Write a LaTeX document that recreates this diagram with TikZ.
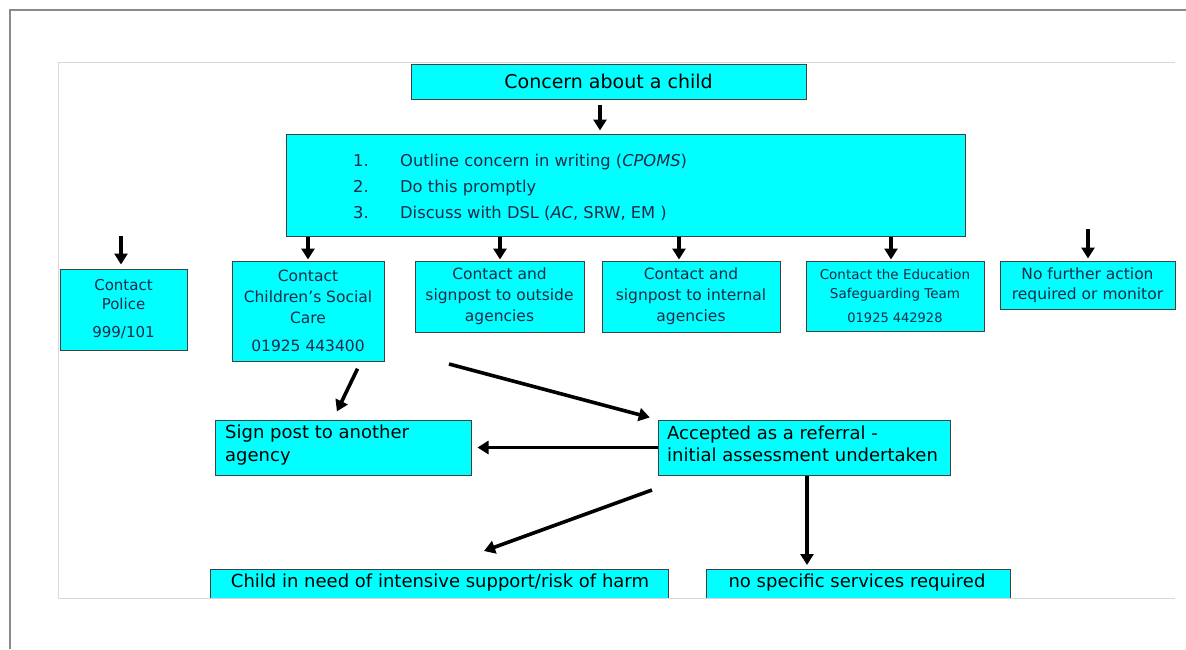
\documentclass[tikz,border=0pt]{standalone}
\usepackage{fontspec}
\setmainfont{DejaVu Sans}
\usetikzlibrary{arrows.meta,calc}
\definecolor{boxcyan}{HTML}{00FFFF}
\definecolor{navytext}{HTML}{1C2A48}
\definecolor{framegray}{HTML}{8A8A8A}
\definecolor{innergray}{HTML}{D8D8D8}
\tikzset{
  cbox/.style={draw=black!75, line width=1pt, fill=boxcyan, inner sep=0pt, align=center},
  arr/.style={line width=3.6pt, -{Triangle[length=11pt,width=13pt]}},
}
\begin{document}
\begin{tikzpicture}[x=1pt,y=-1pt]
\useasboundingbox (0,0) rectangle (1186,649);
\fill[white] (0,0) rectangle (1186,649);
% outer and inner frames
\draw[framegray, line width=1.5pt] (10,649) -- (10,10) -- (1186,10);
\draw[innergray, line width=1pt] (58,598) -- (58,62) -- (1175,62);

% boxes
\node[cbox, minimum width=395pt, minimum height=35pt, font=\fontsize{19}{22}\selectfont] (concern) at (608.5,81.5) {Concern about a child};
\node[cbox, minimum width=679pt, minimum height=102pt] (big) at (625.5,185) {};
\node[anchor=west, text=navytext, font=\fontsize{16.3}{26}\selectfont, align=left, inner sep=0pt] (listtext) at (353,187)
  {\makebox[47pt][l]{1.}Outline concern in writing (\textit{CPOMS})\\
   \makebox[47pt][l]{2.}Do this promptly\\
   \makebox[47pt][l]{3.}Discuss with DSL (\textit{AC}, SRW, EM )};

\node[cbox, minimum width=127pt, minimum height=81pt, text=navytext, font=\fontsize{15}{19}\selectfont] (police) at (123.5,309.5) {Contact\\Police\\[9pt]999/101};
\node[cbox, minimum width=152pt, minimum height=100pt, text=navytext, font=\fontsize{15.5}{21}\selectfont] (csc) at (308,311) {Contact\\Children's Social\\Care\\[7pt]01925 443400};
\node[cbox, minimum width=169pt, minimum height=71pt, text=navytext, font=\fontsize{15.5}{21}\selectfont] (outside) at (499.5,296.5) {Contact and\\signpost to outside\\agencies};
\node[cbox, minimum width=178pt, minimum height=71pt, text=navytext, font=\fontsize{15.5}{21}\selectfont] (internal) at (691,296.5) {Contact and\\signpost to internal\\agencies};
\node[cbox, minimum width=178pt, minimum height=70pt, text=navytext, font=\fontsize{13.5}{19}\selectfont] (edu) at (895,296) {Contact the Education\\Safeguarding Team\\[5pt]{\fontsize{13}{16}\selectfont 01925 442928}};
\node[cbox, minimum width=175pt, minimum height=48pt, text=navytext, font=\fontsize{15.5}{20}\selectfont] (nfa) at (1087.5,285) {No further action\\required or monitor};

\node[cbox, minimum width=256pt, minimum height=55pt] (signpost) at (343,447.5) {};
\node[anchor=north west, align=left, inner sep=0pt, font=\fontsize{18}{23}\selectfont] (signtext) at (225,425) {Sign post to another\\agency};
\node[cbox, minimum width=292pt, minimum height=55pt] (accepted) at (804,447.5) {};
\node[anchor=north west, align=left, inner sep=0pt, font=\fontsize{18}{22}\selectfont] (acctext) at (667,426) {Accepted as a referral -\\initial assessment undertaken};

\node[cbox, minimum width=458pt, minimum height=40pt, anchor=north west] (child) at (210,569) {};
\node[font=\fontsize{18}{20}\selectfont, inner sep=0pt] (childtext) at (440,583) {Child in need of intensive support/risk of harm};
\node[cbox, minimum width=304pt, minimum height=40pt, anchor=north west] (nospec) at (706,569) {};
\node[font=\fontsize{18}{20}\selectfont, inner sep=0pt] (nospectext) at (857,583) {no specific services required};

% hide the parts of the bottom boxes outside the page frame
\fill[white] (11,598.5) rectangle (1186,649);
\draw[innergray, line width=1pt] (58,598) -- (1175,598);

% free ends
\coordinate (policein) at (121,236);
\coordinate (nfain) at (1088,229);
\coordinate (cscout) at (449,364);
\coordinate (accout) at (652,490);
\coordinate (childin) at (484,551);

% connectors
\draw[arr, shorten <=5pt, shorten >=3pt] (concern.south -| 600,0) -- (big.north -| 600,0);
\draw[arr, shorten >=4pt] (policein) -- (police.north -| 121,0);
\draw[arr, shorten >=1pt] (big.south -| 308,0) -- (csc.north -| 308,0);
\draw[arr, shorten >=1pt] (big.south -| 500,0) -- (outside.north -| 500,0);
\draw[arr, shorten >=1pt] (big.south -| 679,0) -- (internal.north -| 679,0);
\draw[arr, shorten >=1pt] (big.south -| 891,0) -- (edu.north -| 891,0);
\draw[arr, shorten >=2pt] (nfain) -- (nfa.north -| 1088,0);
\draw[arr, shorten <=8pt, shorten >=9pt] (csc.south -| 361,0) -- (signpost.north -| 333,0);
\draw[arr, shorten >=8pt] (cscout) -- (accepted.north west);
\draw[arr, shorten >=6pt] (accepted.west) -- (signpost.east);
\draw[arr] (accout) -- (childin);
\draw[arr, shorten >=4pt] (accepted.south -| 807,0) -- (nospec.north -| 807,0);
\end{tikzpicture}
\end{document}
